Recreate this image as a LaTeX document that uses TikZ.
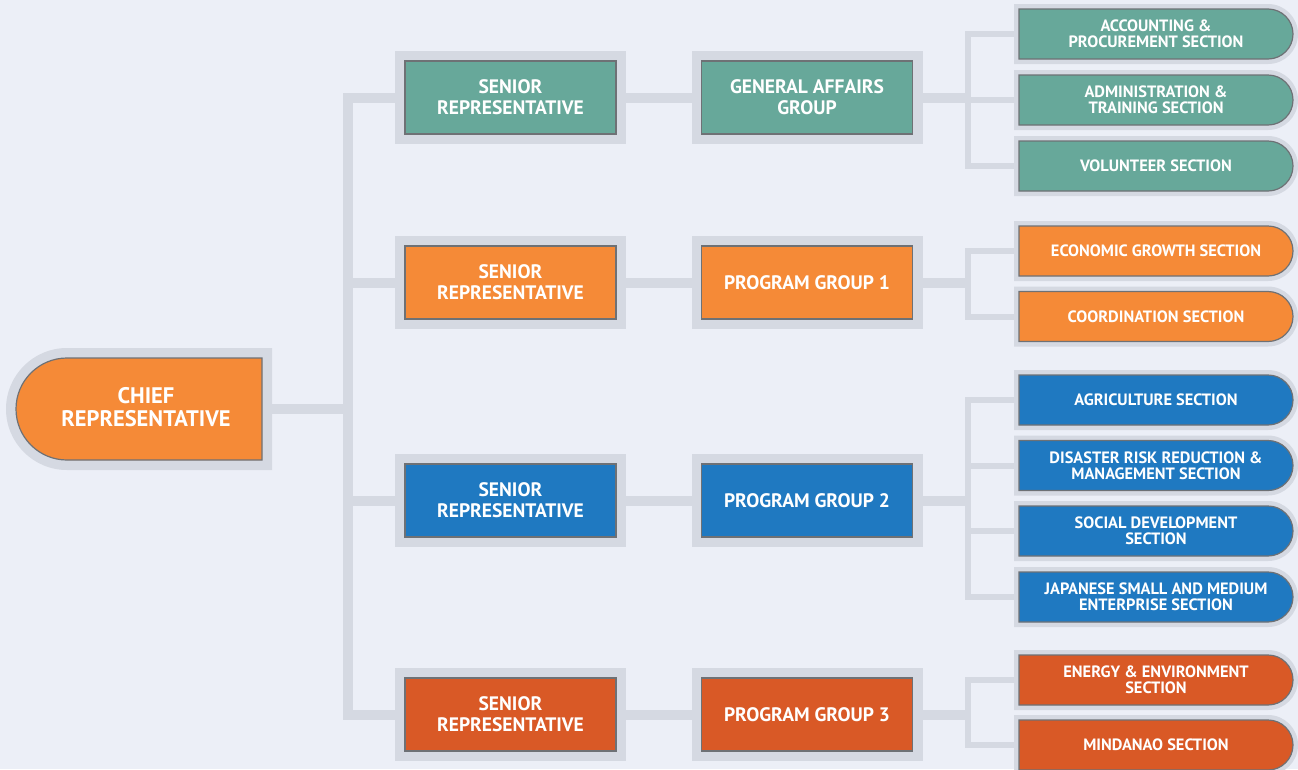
\documentclass[tikz,border=0pt]{standalone}
\usepackage{fontspec}
\setmainfont{PT Sans}
\pgfdeclarelayer{bglayer}
\pgfdeclarelayer{lines}
\pgfsetlayers{bglayer,lines,main}
\definecolor{bgc}{HTML}{ECEFF7}
\definecolor{halo}{HTML}{D5D9E2}
\definecolor{border}{HTML}{6E7175}
\definecolor{teal}{HTML}{67A89A}
\definecolor{orng}{HTML}{F58A37}
\definecolor{blu}{HTML}{1F79C1}
\definecolor{redo}{HTML}{D95926}
\newcommand\boxfont{\fontsize{19.5}{21}\selectfont\bfseries}
\newcommand\chieffont{\fontsize{22.5}{23}\selectfont\bfseries}
\newcommand\secfont{\fontsize{16.4}{16}\selectfont\bfseries}
\newcommand\mySecShape[2]{%
  \fill[halo] (1014,#1-30) -- (1268,#1-30) arc(-90:90:30) -- (1014,#1+30) -- cycle;
  \draw[draw=border, line width=1.2pt, fill=#2] (1019,#1-25) -- (1268,#1-25) arc(-90:90:25) -- (1019,#1+25) -- cycle;
}
\tikzset{
  conn/.style={draw=halo, line width=10pt},
  subconn/.style={draw=halo, line width=6pt},
  box/.style={rectangle, draw=border, line width=1.2pt, fill=#1,
    minimum width=211pt, minimum height=73pt, inner sep=0pt,
    text=white, align=center, font=\boxfont,
    preaction={draw=halo, line width=20pt}},
  sectext/.style={rectangle, minimum width=274pt, minimum height=50pt, inner sep=0pt,
    text=white, align=center, font=\secfont},
  chieftext/.style={rectangle, inner sep=0pt, text=white, align=center, font=\chieffont},
}
\begin{document}
\begin{tikzpicture}[x=1pt,y=-1pt]
\begin{pgfonlayer}{bglayer}
  \fill[bgc] (0,0) rectangle (1298,769);
\end{pgfonlayer}
\useasboundingbox (0,0) rectangle (1298,769);

% chief shape
\fill[halo] (272,348) -- (67,348) arc(-90:-270:61) -- (272,470) -- cycle;
\draw[draw=border, line width=1.2pt, fill=orng] (262,358) -- (67,358) arc(-90:-270:51) -- (262,460) -- cycle;
\node[chieftext] (chief) at (146,407.5) {CHIEF\\REPRESENTATIVE};

% senior and group boxes
\node[box=teal] (sr1) at (510.5,97.5) {SENIOR\\REPRESENTATIVE};
\node[box=orng] (sr2) at (510.5,282.5) {SENIOR\\REPRESENTATIVE};
\node[box=blu]  (sr3) at (510.5,500.5) {SENIOR\\REPRESENTATIVE};
\node[box=redo] (sr4) at (510.5,714.5) {SENIOR\\REPRESENTATIVE};
\node[box=teal] (g1) at (807,97.5) {GENERAL AFFAIRS\\GROUP};
\node[box=orng] (g2) at (807,282.5) {PROGRAM GROUP 1};
\node[box=blu]  (g3) at (807,500.5) {PROGRAM GROUP 2};
\node[box=redo] (g4) at (807,714.5) {PROGRAM GROUP 3};

% section shapes
\mySecShape{34}{teal}
\mySecShape{100}{teal}
\mySecShape{166}{teal}
\mySecShape{251}{orng}
\mySecShape{316.5}{orng}
\mySecShape{400}{blu}
\mySecShape{465.5}{blu}
\mySecShape{531}{blu}
\mySecShape{597}{blu}
\mySecShape{680}{redo}
\mySecShape{745}{redo}

\node[sectext] (s11) at (1156,34) {ACCOUNTING \&\\PROCUREMENT SECTION};
\node[sectext] (s12) at (1156,100) {ADMINISTRATION \&\\TRAINING SECTION};
\node[sectext] (s13) at (1156,166) {VOLUNTEER SECTION};
\node[sectext] (s21) at (1156,251) {ECONOMIC GROWTH SECTION};
\node[sectext] (s22) at (1156,316.5) {COORDINATION SECTION};
\node[sectext] (s31) at (1156,400) {AGRICULTURE SECTION};
\node[sectext] (s32) at (1156,465.5) {DISASTER RISK REDUCTION \&\\MANAGEMENT SECTION};
\node[sectext] (s33) at (1156,531) {SOCIAL DEVELOPMENT\\SECTION};
\node[sectext] (s34) at (1156,597) {JAPANESE SMALL AND MEDIUM\\ENTERPRISE SECTION};
\node[sectext] (s41) at (1156,680) {ENERGY \& ENVIRONMENT\\SECTION};
\node[sectext] (s42) at (1156,745) {MINDANAO SECTION};

\coordinate (trunk) at (348,409);
\coordinate (b1) at (968,97.5);
\coordinate (b2) at (968,282.5);
\coordinate (b3) at (968,500.5);
\coordinate (b4) at (968,714.5);

\begin{pgfonlayer}{lines}
  \draw[conn] (chief.center |- trunk) -- (trunk);
  \draw[conn] (sr1) -| (trunk) |- (sr4);
  \draw[conn] (trunk |- sr2) -- (sr2);
  \draw[conn] (trunk |- sr3) -- (sr3);
  \draw[conn] (sr1) -- (g1);
  \draw[conn] (sr2) -- (g2);
  \draw[conn] (sr3) -- (g3);
  \draw[conn] (sr4) -- (g4);
  \draw[conn] (g1) -- (b1);
  \draw[conn] (g2) -- (b2);
  \draw[conn] (g3) -- (b3);
  \draw[conn] (g4) -- (b4);
  \draw[subconn] (s11) -| (b1) |- (s13);
  \draw[subconn] (b1 |- s12) -- (s12);
  \draw[subconn] (s21) -| (b2) |- (s22);
  \draw[subconn] (s31) -| (b3) |- (s34);
  \draw[subconn] (b3 |- s32) -- (s32);
  \draw[subconn] (b3 |- s33) -- (s33);
  \draw[subconn] (s41) -| (b4) |- (s42);
\end{pgfonlayer}
\end{tikzpicture}
\end{document}
